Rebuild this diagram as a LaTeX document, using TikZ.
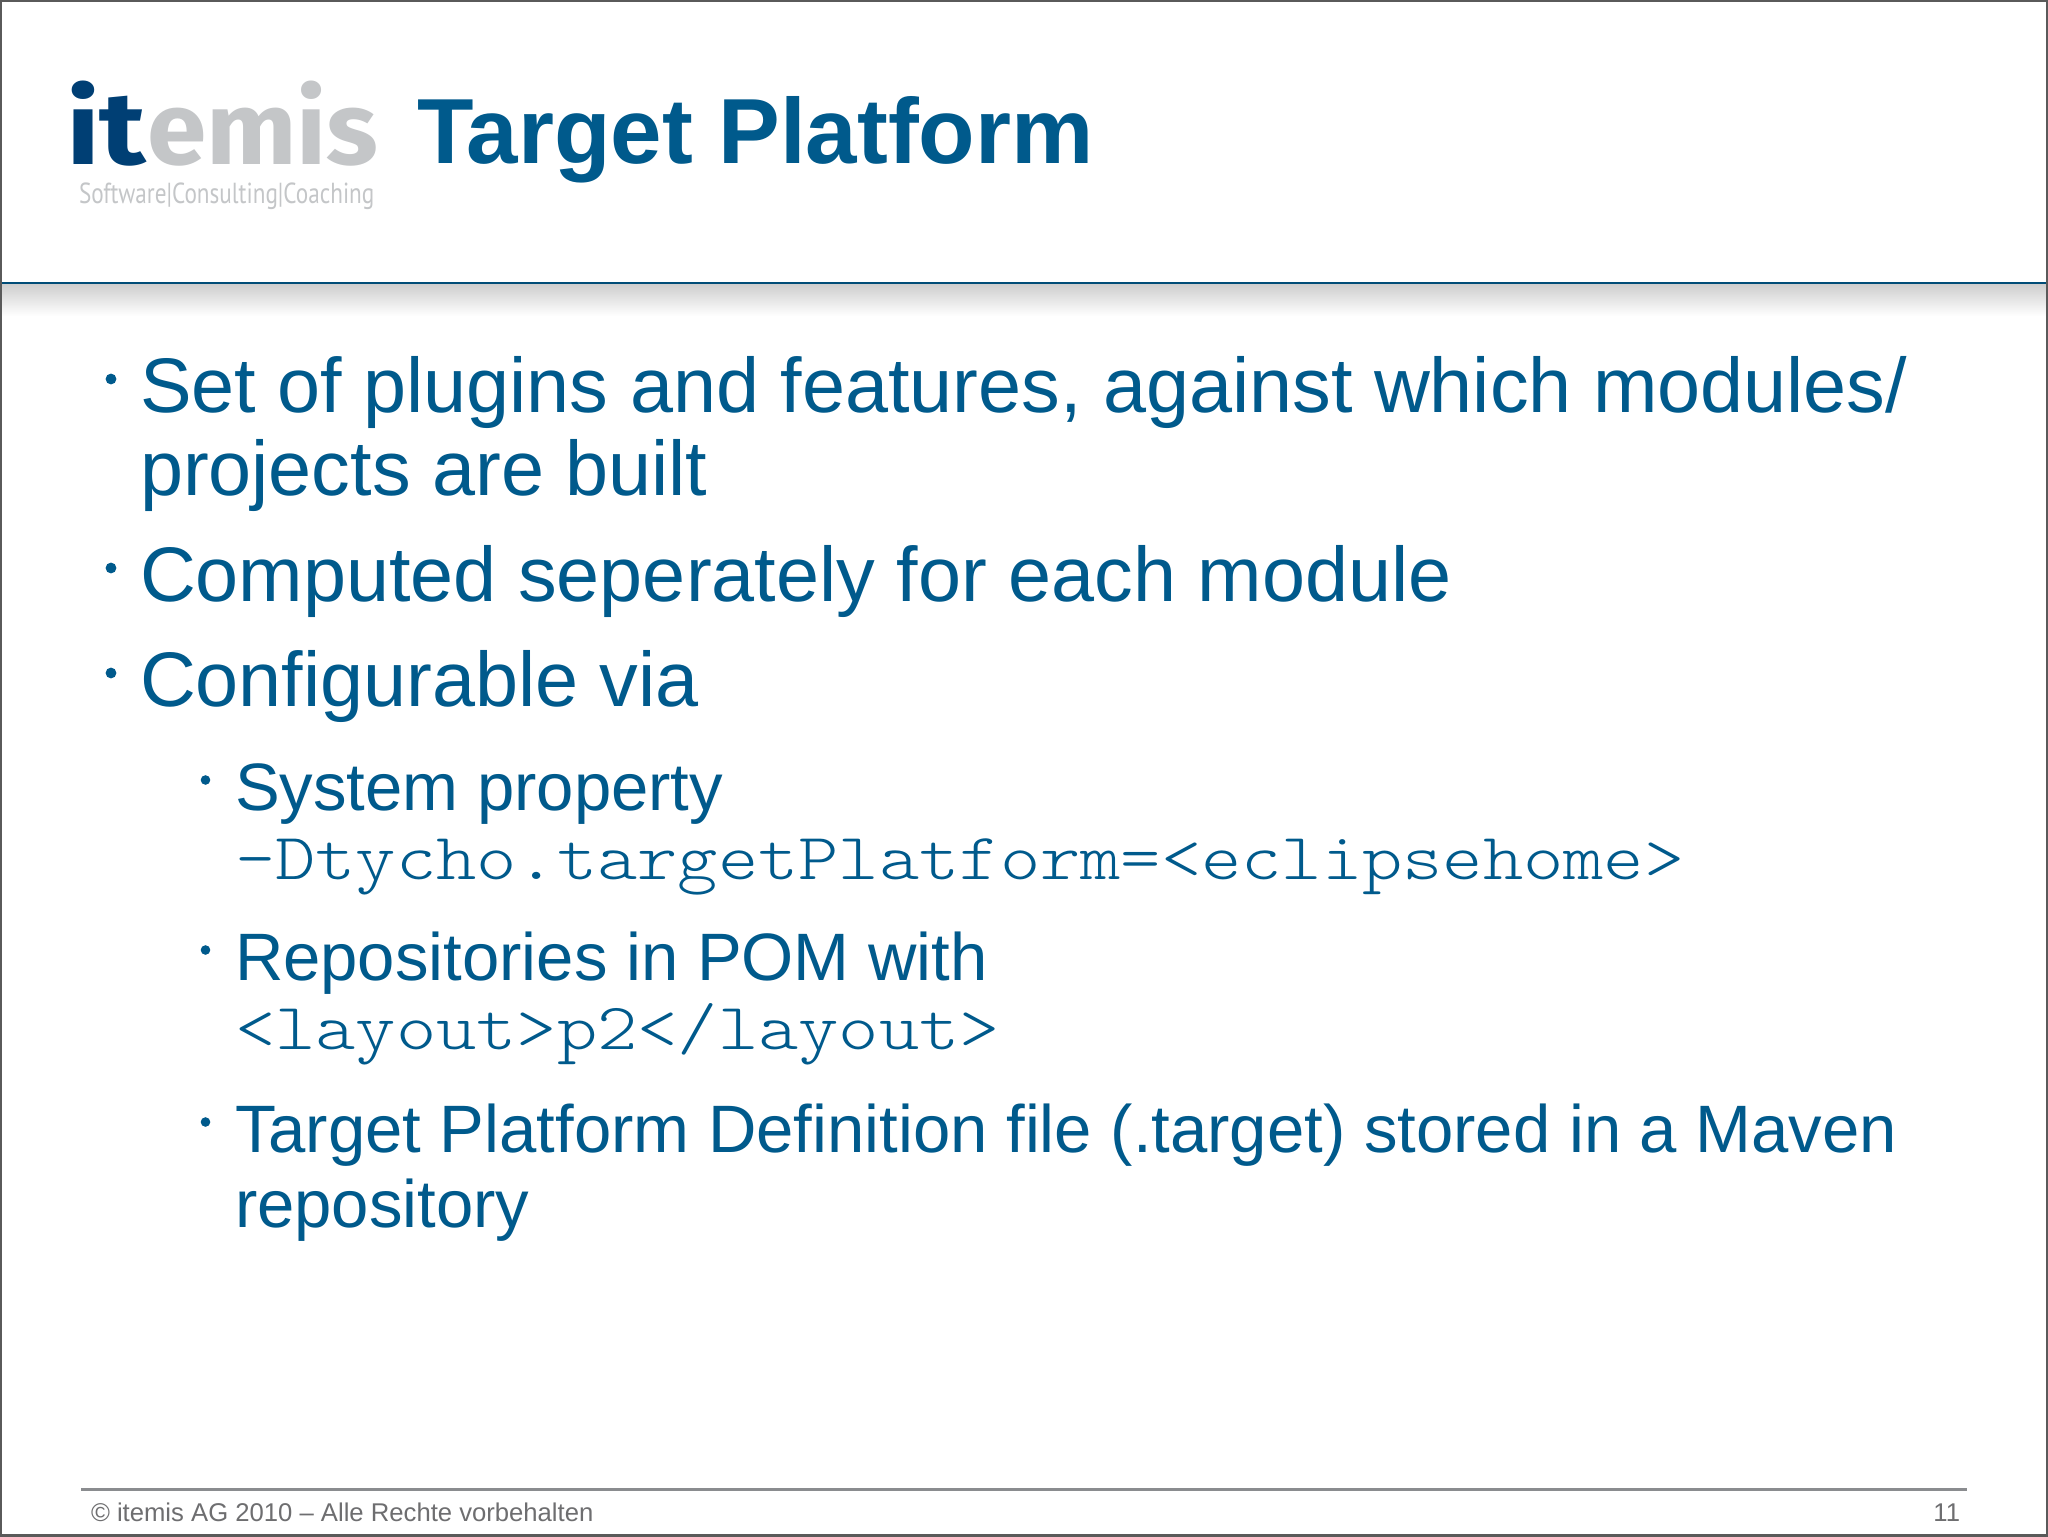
\documentclass[tikz,border=0pt]{standalone}
\usepackage{fontspec}
\setmainfont{Liberation Sans}
\setmonofont[FakeStretch=1.162]{Latin Modern Mono Light}
\newfontfamily\logofonta[FakeStretch=1.17]{Fira Sans}
\newfontfamily\logofontb[FakeStretch=1.04]{Fira Sans}
\newfontfamily\logosmall[FakeStretch=0.8]{PT Sans}
\definecolor{slideblue}{HTML}{005A8C}
\definecolor{logodark}{HTML}{003F74}
\definecolor{logogray}{HTML}{C4C6C8}
\definecolor{rulegray}{HTML}{8A8C8F}
\definecolor{framegray}{HTML}{5A5A5A}
\definecolor{footgray}{HTML}{6E6E70}
\tikzset{
  x=0.5pt,y=-0.5pt,
  txt/.style={anchor=base west,inner sep=0pt,outer sep=0pt,text=slideblue},
  lvla/.style={txt,font=\fontsize{38.68}{38.68}\selectfont},
  lvlb/.style={txt,font=\fontsize{33.53}{33.53}\selectfont},
  codeb/.style={txt,font=\ttfamily\fontsize{33}{33}\selectfont},
  foot/.style={inner sep=0pt,outer sep=0pt,text=footgray,font=\fontsize{12.83}{12.83}\selectfont},
  bula/.style={circle,fill=slideblue,inner sep=0pt,minimum size=5.4pt},
  bulb/.style={circle,fill=slideblue,inner sep=0pt,minimum size=4.8pt},
  logotxt/.style={anchor=base west,inner sep=0pt,outer sep=0pt},
}
\begin{document}
\begin{tikzpicture}
\useasboundingbox (0,0) rectangle (2048,1536);
\fill[white] (0,0) rectangle (2048,1536);
% header shadow
\shade[top color=black!20,bottom color=white] (0,283) rectangle (2048,316);
\draw[color=slideblue!85!black,line width=1pt] (0,282.5) -- (2048,282.5);
\draw[framegray,line width=1.2pt] (0.6,0.6) rectangle (2047.4,1535.4);
% logo
\node[logotxt,text=logodark,font=\logofonta\bfseries\fontsize{51.5}{51.5}\selectfont] (logoa) at (66,164) {it};
\node[logotxt,text=logogray,font=\logofontb\bfseries\fontsize{51.5}{51.5}\selectfont] (logob) at (147,164) {emis};
\node[logotxt,text=logogray,font=\logosmall\fontsize{14.5}{14.5}\selectfont] (tag) at (79,203.5)
  {Software|Consulting|Coaching};
% title
\node[txt,font=\bfseries\fontsize{46.25}{46.25}\selectfont] (title) at (417,163) {Target Platform};
% body
\node[bula] (b1) at (111,379) {};
\node[lvla] (t1) at (140,412.7) {Set of plugins and features, against which modules/};
\node[lvla] (t1b) at (140,495) {projects are built};
\node[bula] (b2) at (111,568) {};
\node[lvla] (t2) at (140,601) {Computed seperately for each module};
\node[bula] (b3) at (111,673) {};
\node[lvla] (t3) at (140,706.7) {Configurable via};
\node[bulb] (b4) at (205.5,780) {};
\node[lvlb] (t4) at (235,810) {System property};
\node[codeb] (t4b) at (235,879) {-Dtycho.targetPlatform=<eclipsehome>};
\node[bulb] (b5) at (205.5,950) {};
\node[lvlb] (t5) at (235,980) {Repositories in POM with};
\node[codeb] (t5b) at (235,1049.3) {<layout>p2</layout>};
\node[bulb] (b6) at (205.5,1122) {};
\node[lvlb] (t6) at (235,1152.7) {Target Platform Definition file (.target) stored in a Maven};
\node[lvlb] (t6b) at (235,1227.3) {repository};
% footer
\draw[rulegray,line width=1.5pt] (81,1489) -- (1967,1489);
\node[foot,anchor=base west] (f1) at (91,1521) {© itemis AG 2010 – Alle Rechte vorbehalten};
\node[foot,anchor=base east] (f2) at (1960,1521) {11};
\end{tikzpicture}
\end{document}
